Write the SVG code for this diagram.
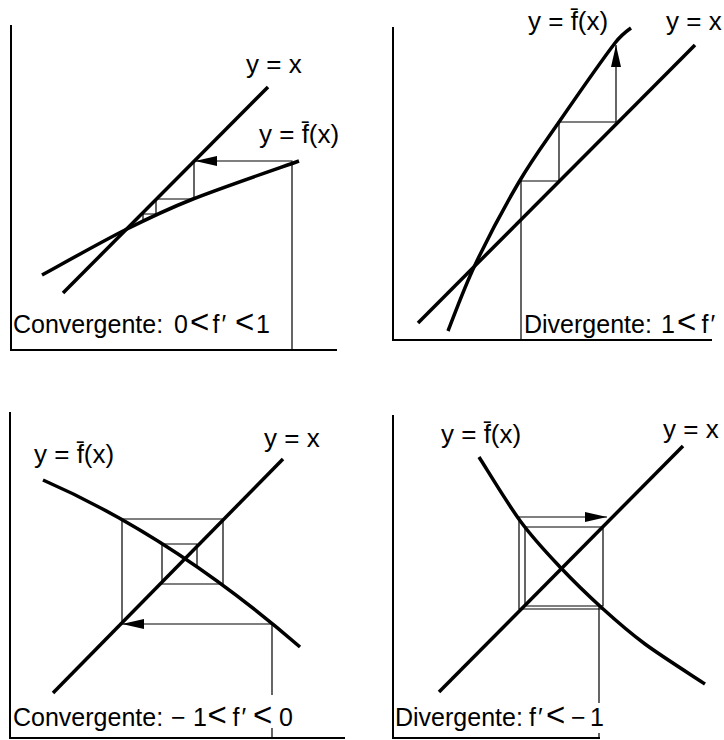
<svg xmlns="http://www.w3.org/2000/svg" width="724" height="740" viewBox="0 0 724 740">
<style>
.ax{fill:none;stroke:#000;stroke-width:2}
.thick{fill:none;stroke:#000;stroke-width:3.5;stroke-linecap:butt}
.thin{fill:none;stroke:#000;stroke-width:1.2}
text{font-family:"Liberation Sans",Arial,sans-serif;font-size:25px;fill:#000}
.lb{font-size:26px}
.lt{font-size:33px}
</style>
<defs>
<marker id="ah" viewBox="0 0 22 10" refX="22" refY="5" markerWidth="22" markerHeight="10" markerUnits="userSpaceOnUse" orient="auto">
<path d="M0,0 L22,5 L0,10 Z" fill="#000"/>
</marker>
</defs>
<rect width="724" height="740" fill="#fff"/>

<g id="panel1">
<path class="ax" d="M11,25 V350 H337"/>
<path class="thick" d="M63,293 L268,87"/>
<path class="thick" d="M42,275 C55.8,267.5 99.8,242.7 125,230 C150.2,217.3 164,210.5 193,199 C222,187.5 281.3,167.3 299,161"/>
<path class="thin" d="M292,350 V161 H195" marker-end="url(#ah)"/>
<path class="thin" d="M194,161 V199 H156 V214 H143 V220"/>
<text class="lb" x="246" y="73">y = x</text>
<text class="lb" x="259" y="143">y = f̄(x)</text>
<text y="333"><tspan x="13">Convergente:</tspan><tspan x="174">0</tspan><tspan class="lt" x="190">&lt;</tspan><tspan x="212.5">f</tspan><tspan x="221.5">′</tspan><tspan class="lt" x="235">&lt;</tspan><tspan x="256">1</tspan></text>
</g>

<g id="panel2">
<path class="ax" d="M393,27 V340 H712"/>
<path class="thick" d="M418,323 L695,45"/>
<path class="thick" d="M448,331 C452.5,320 463.2,289.8 475,265 C486.8,240.2 505,205.8 519,182 C533,158.2 543,145.2 559,122 C575,98.8 603,58.7 615,43 C621,35.2 626,31.5 631,28"/>
<path class="thin" d="M521,340 V181 H559 V122 H616 V45" marker-end="url(#ah)"/>
<text class="lb" x="528" y="30">y = f̄(x)</text>
<text class="lb" x="666" y="30">y = x</text>
<text y="333"><tspan x="524">Divergente:</tspan><tspan x="661">1</tspan><tspan class="lt" x="677">&lt;</tspan><tspan x="701.5">f</tspan><tspan x="710.5">′</tspan></text>
</g>

<g id="panel3">
<path class="ax" d="M10,412 V738 H345"/>
<path class="thick" d="M53,693 L283,459"/>
<path class="thick" d="M43,480 Q171.6,536 300,647"/>
<path class="thin" d="M272,738 V728 M272,695 V624 H122" marker-end="url(#ah)"/>
<path class="thin" d="M122,624 V519 H223 V584 H162 V544 H197 V567"/>
<text class="lb" x="34" y="463">y = f̄(x)</text>
<text class="lb" x="264" y="447">y = x</text>
<text y="726"><tspan x="13">Convergente:</tspan><tspan x="171">−</tspan><tspan x="193">1</tspan><tspan class="lt" x="207.5">&lt;</tspan><tspan x="232.5">f</tspan><tspan x="241.5">′</tspan><tspan class="lt" x="253">&lt;</tspan><tspan x="279">0</tspan></text>
</g>

<g id="panel4">
<path class="ax" d="M393,415 V738 H600"/>
<path class="thick" d="M439,692 L683,446"/>
<path class="thick" d="M479,457 C486,467.8 507.3,503.5 521,522 C534.7,540.5 547.5,553.7 561,568 C574.5,582.3 588,595.3 602,608 C616,620.7 627.8,631.3 645,644 C662.2,656.7 695,677.3 705,684"/>
<path class="thin" d="M599,738 V733 M599,703 V607"/>
<path class="thin" d="M525,527 H603 V606 H525 Z"/>
<path class="thin" d="M604,609 H519 V517 H607" marker-end="url(#ah)"/>
<text class="lb" x="441" y="443">y = f̄(x)</text>
<text class="lb" x="663" y="438">y = x</text>
<text y="726"><tspan x="395">Divergente:</tspan><tspan x="529">f</tspan><tspan x="538">′</tspan><tspan class="lt" x="546">&lt;</tspan><tspan x="571">−</tspan><tspan x="590">1</tspan></text>
</g>
</svg>
